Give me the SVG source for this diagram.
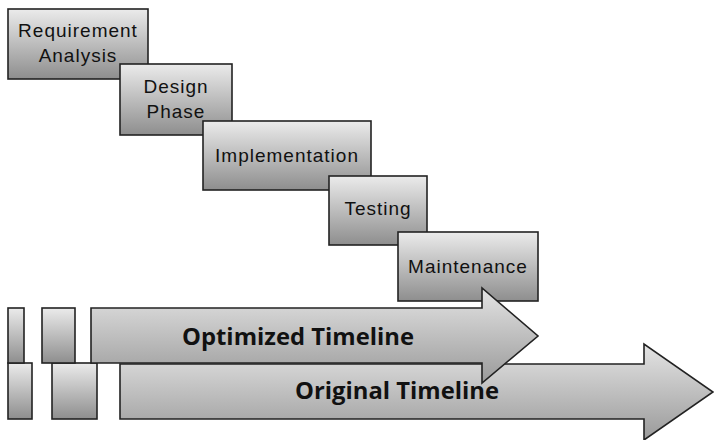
<svg xmlns="http://www.w3.org/2000/svg" width="714" height="440" viewBox="0 0 714 440">
<defs>
<linearGradient id="g" x1="0" y1="0" x2="0" y2="1">
<stop offset="0" stop-color="#ebebeb"/>
<stop offset="1" stop-color="#8e8e8e"/>
</linearGradient>
<linearGradient id="ga" x1="0" y1="0" x2="0" y2="1">
<stop offset="0" stop-color="#e4e4e4"/>
<stop offset="1" stop-color="#9a9a9a"/>
</linearGradient>
</defs>
<style>
.box{fill:url(#g);stroke:#222;stroke-width:1.6}
.arr{fill:url(#ga);stroke:#222;stroke-width:1.6;stroke-linejoin:miter}
.lbl{font-family:"Liberation Sans",Arial,sans-serif;font-size:19px;letter-spacing:1px;fill:#111;text-anchor:middle}
.big{font-family:"Open Sans","Liberation Sans",sans-serif;font-weight:bold;font-size:23px;fill:#111}
</style>
<rect width="714" height="440" fill="#fff"/>
<g id="req">
<rect class="box" x="8" y="9" width="140" height="70"/>
<text class="lbl" x="78" y="37">Requirement</text>
<text class="lbl" x="78" y="62">Analysis</text>
</g>
<g id="design">
<rect class="box" x="120" y="64" width="112" height="71"/>
<text class="lbl" x="176" y="93">Design</text>
<text class="lbl" x="176" y="118">Phase</text>
</g>
<g id="impl">
<rect class="box" x="203" y="121" width="168" height="69"/>
<text class="lbl" x="287" y="162">Implementation</text>
</g>
<g id="testing">
<rect class="box" x="329" y="176" width="98" height="69"/>
<text class="lbl" x="378" y="215">Testing</text>
</g>
<g id="maint">
<rect class="box" x="398" y="232" width="140" height="69"/>
<text class="lbl" x="468" y="273">Maintenance</text>
</g>
<g id="original">
<rect class="box" x="8" y="363" width="24" height="56"/>
<rect class="box" x="52" y="363" width="45" height="56"/>
<polygon class="arr" points="120,364 644,364 644,344 713,392 644,440 644,419 120,419"/>
<text class="big" x="295" y="399" textLength="204" lengthAdjust="spacingAndGlyphs">Original Timeline</text>
</g>
<g id="optimized">
<rect class="box" x="8" y="308" width="16" height="55"/>
<rect class="box" x="42" y="308" width="33" height="55"/>
<polygon class="arr" points="91,308 482,308 482,288 538,336 482,383 482,363 91,363"/>
<text class="big" x="182" y="345" textLength="232" lengthAdjust="spacingAndGlyphs">Optimized Timeline</text>
</g>
</svg>
